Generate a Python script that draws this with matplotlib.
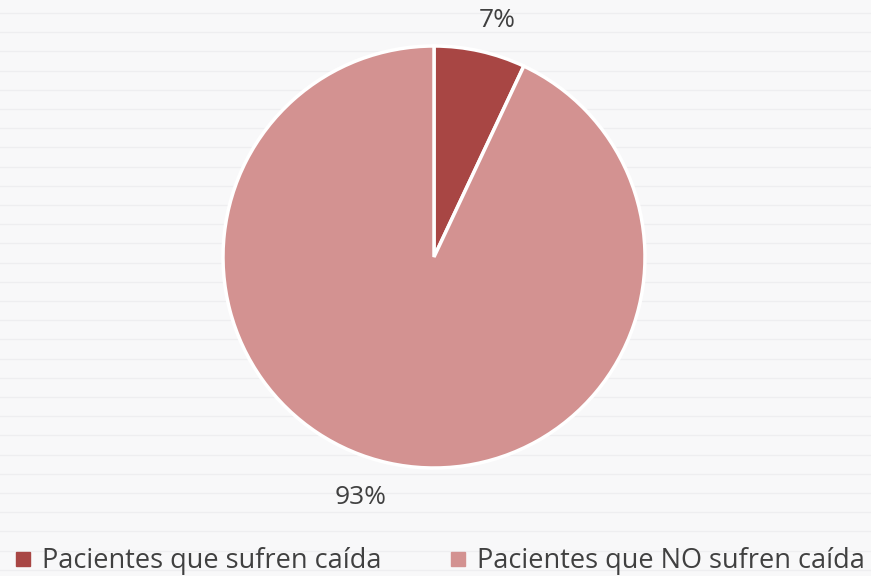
import numpy as np
import matplotlib.pyplot as plt
from matplotlib.lines import Line2D

# data
labels = ["Pacientes que sufren caída", "Pacientes que NO sufren caída"]
values = [7, 93]
colors = ["#A84644", "#D39291"]

plt.rcParams['font.family'] = ['Open Sans', 'DejaVu Sans']

fig = plt.figure(figsize=(8.71, 5.76), dpi=100)
fig.patch.set_facecolor("#F8F8F9")

# striped background like the slide template
bg = fig.add_axes([0, 0, 1, 1], zorder=0)
bg.set_xlim(0, 1)
bg.set_ylim(576, 0)
for y in np.arange(13, 576, 19.2):
    bg.axhline(y, color="#EEEEF0", lw=0.9)
bg.axis("off")

ax = fig.add_axes([223/871, 108/576, 422/871, 422/576], zorder=1)
wedges, texts, autotexts = ax.pie(values, colors=colors, startangle=90, counterclock=False,
                                  autopct="%1.0f%%", pctdistance=1.17,
                                  wedgeprops=dict(edgecolor="white", linewidth=2.5),
                                  textprops=dict(fontsize=19, color="#404040"))
# excel-like label placement
autotexts[0].set_position((0.30, 1.12))
autotexts[1].set_position((-0.35, -1.14))
ax.set_xlim(-1, 1)
ax.set_ylim(-1, 1)
ax.set_aspect("equal")

handles = [Line2D([], [], marker="s", ls="", color=c, markersize=10) for c in colors]
leg = fig.legend(handles, labels, loc="center", bbox_to_anchor=(0.505, 0.026), ncol=2,
                 frameon=False, fontsize=19.5, handletextpad=0.4, columnspacing=2.5,
                 labelcolor="#404040", handlelength=0.6, borderpad=0, borderaxespad=0)

fig.savefig("out.png", dpi=100, facecolor=fig.get_facecolor())
